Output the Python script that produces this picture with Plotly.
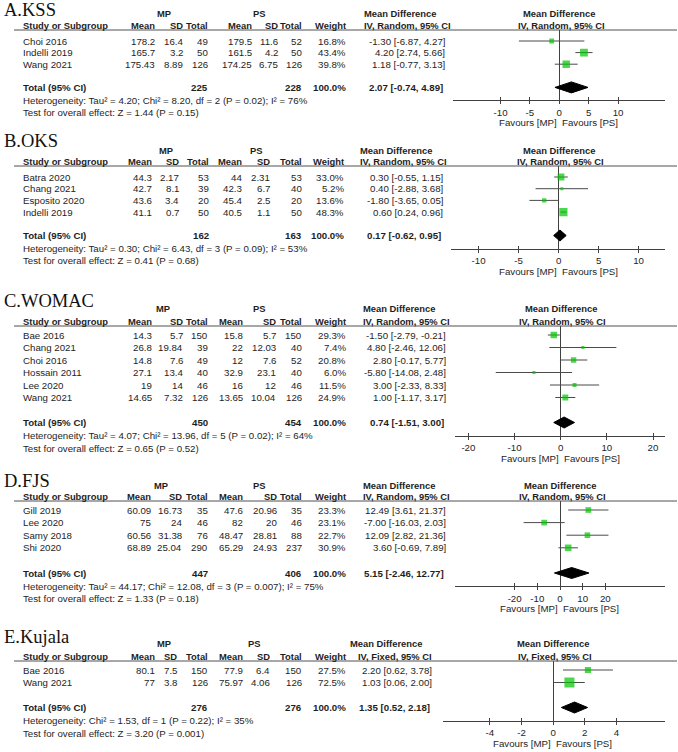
import math
import plotly.graph_objects as go

W, H = 678, 752

# ---------------- data ----------------
kss_study = ["Choi 2016", "Indelli 2019", "Wang 2021"]
kss_mp_mean = [178.2, 165.7, 175.43]
kss_mp_sd = [16.4, 3.2, 8.89]
kss_mp_n = [49, 50, 126]
kss_ps_mean = [179.5, 161.5, 174.25]
kss_ps_sd = [11.6, 4.2, 6.75]
kss_ps_n = [52, 50, 126]
kss_weight = [16.8, 43.4, 39.8]
kss_md = [-1.30, 4.20, 1.18]
kss_lo = [-6.87, 2.74, -0.77]
kss_hi = [4.27, 5.66, 3.13]
kss_total_n = [225, 228]
kss_total_md = [2.07, -0.74, 4.89]
kss_het = "Heterogeneity: Tau² = 4.20; Chi² = 8.20, df = 2 (P = 0.02); I² = 76%"
kss_test = "Test for overall effect: Z = 1.44 (P = 0.15)"
kss_ticks = [-10, -5, 0, 5, 10]

oks_study = ["Batra 2020", "Chang 2021", "Esposito 2020", "Indelli 2019"]
oks_mp_mean = [44.3, 42.7, 43.6, 41.1]
oks_mp_sd = [2.17, 8.1, 3.4, 0.7]
oks_mp_n = [53, 39, 20, 50]
oks_ps_mean = [44, 42.3, 45.4, 40.5]
oks_ps_sd = [2.31, 6.7, 2.5, 1.1]
oks_ps_n = [53, 40, 20, 50]
oks_weight = [33.0, 5.2, 13.6, 48.3]
oks_md = [0.30, 0.40, -1.80, 0.60]
oks_lo = [-0.55, -2.88, -3.65, 0.24]
oks_hi = [1.15, 3.68, 0.05, 0.96]
oks_total_n = [162, 163]
oks_total_md = [0.17, -0.62, 0.95]
oks_het = "Heterogeneity: Tau² = 0.30; Chi² = 6.43, df = 3 (P = 0.09); I² = 53%"
oks_test = "Test for overall effect: Z = 0.41 (P = 0.68)"
oks_ticks = [-10, -5, 0, 5, 10]

womac_study = ["Bae 2016", "Chang 2021", "Choi 2016", "Hossain 2011", "Lee 2020", "Wang 2021"]
womac_mp_mean = [14.3, 26.8, 14.8, 27.1, 19, 14.65]
womac_mp_sd = [5.7, 19.84, 7.6, 13.4, 14, 7.32]
womac_mp_n = [150, 39, 49, 40, 46, 126]
womac_ps_mean = [15.8, 22, 12, 32.9, 16, 13.65]
womac_ps_sd = [5.7, 12.03, 7.6, 23.1, 12, 10.04]
womac_ps_n = [150, 40, 52, 40, 46, 126]
womac_weight = [29.3, 7.4, 20.8, 6.0, 11.5, 24.9]
womac_md = [-1.50, 4.80, 2.80, -5.80, 3.00, 1.00]
womac_lo = [-2.79, -2.46, -0.17, -14.08, -2.33, -1.17]
womac_hi = [-0.21, 12.06, 5.77, 2.48, 8.33, 3.17]
womac_total_n = [450, 454]
womac_total_md = [0.74, -1.51, 3.00]
womac_het = "Heterogeneity: Tau² = 4.07; Chi² = 13.96, df = 5 (P = 0.02); I² = 64%"
womac_test = "Test for overall effect: Z = 0.65 (P = 0.52)"
womac_ticks = [-20, -10, 0, 10, 20]

fjs_study = ["Gill 2019", "Lee 2020", "Samy 2018", "Shi 2020"]
fjs_mp_mean = [60.09, 75, 60.56, 68.89]
fjs_mp_sd = [16.73, 24, 31.38, 25.04]
fjs_mp_n = [35, 46, 76, 290]
fjs_ps_mean = [47.6, 82, 48.47, 65.29]
fjs_ps_sd = [20.96, 20, 28.81, 24.93]
fjs_ps_n = [35, 46, 88, 237]
fjs_weight = [23.3, 23.1, 22.7, 30.9]
fjs_md = [12.49, -7.00, 12.09, 3.60]
fjs_lo = [3.61, -16.03, 2.82, -0.69]
fjs_hi = [21.37, 2.03, 21.36, 7.89]
fjs_total_n = [447, 406]
fjs_total_md = [5.15, -2.46, 12.77]
fjs_het = "Heterogeneity: Tau² = 44.17; Chi² = 12.08, df = 3 (P = 0.007); I² = 75%"
fjs_test = "Test for overall effect: Z = 1.33 (P = 0.18)"
fjs_ticks = [-20, -10, 0, 10, 20]

kuj_study = ["Bae 2016", "Wang 2021"]
kuj_mp_mean = [80.1, 77]
kuj_mp_sd = [7.5, 3.8]
kuj_mp_n = [150, 126]
kuj_ps_mean = [77.9, 75.97]
kuj_ps_sd = [6.4, 4.06]
kuj_ps_n = [150, 126]
kuj_weight = [27.5, 72.5]
kuj_md = [2.20, 1.03]
kuj_lo = [0.62, 0.06]
kuj_hi = [3.78, 2.00]
kuj_total_n = [276, 276]
kuj_total_md = [1.35, 0.52, 2.18]
kuj_het = "Heterogeneity: Chi² = 1.53, df = 1 (P = 0.22); I² = 35%"
kuj_test = "Test for overall effect: Z = 3.20 (P = 0.001)"
kuj_ticks = [-4, -2, 0, 2, 4]

panel_titles = ["A.KSS", "B.OKS", "C.WOMAC", "D.FJS", "E.Kujala"]
method_labels = ["IV, Random, 95% CI", "IV, Random, 95% CI", "IV, Random, 95% CI",
                 "IV, Random, 95% CI", "IV, Fixed, 95% CI"]
group_labels = ["MP", "PS"]
favour_labels = ["Favours [MP]", "Favours [PS]"]

panels_data = [
    (kss_study, kss_mp_mean, kss_mp_sd, kss_mp_n, kss_ps_mean, kss_ps_sd, kss_ps_n,
     kss_weight, kss_md, kss_lo, kss_hi, kss_total_n, kss_total_md, kss_het, kss_test, kss_ticks),
    (oks_study, oks_mp_mean, oks_mp_sd, oks_mp_n, oks_ps_mean, oks_ps_sd, oks_ps_n,
     oks_weight, oks_md, oks_lo, oks_hi, oks_total_n, oks_total_md, oks_het, oks_test, oks_ticks),
    (womac_study, womac_mp_mean, womac_mp_sd, womac_mp_n, womac_ps_mean, womac_ps_sd, womac_ps_n,
     womac_weight, womac_md, womac_lo, womac_hi, womac_total_n, womac_total_md, womac_het, womac_test, womac_ticks),
    (fjs_study, fjs_mp_mean, fjs_mp_sd, fjs_mp_n, fjs_ps_mean, fjs_ps_sd, fjs_ps_n,
     fjs_weight, fjs_md, fjs_lo, fjs_hi, fjs_total_n, fjs_total_md, fjs_het, fjs_test, fjs_ticks),
    (kuj_study, kuj_mp_mean, kuj_mp_sd, kuj_mp_n, kuj_ps_mean, kuj_ps_sd, kuj_ps_n,
     kuj_weight, kuj_md, kuj_lo, kuj_hi, kuj_total_n, kuj_total_md, kuj_het, kuj_test, kuj_ticks),
]

# ---------------- layout (pixel positions / styling) ----------------
panel_layout = [
    dict(title_y=10, head_y=14, S=25.5, L=30, r0=41, dy=11.6, x0=453, x1=665, xr=(-18.1, 18.0),
         cols=[155, 183, 208, 252, 278, 302, 346], mp_c=164, ps_c=259, md_r=445, iv_r=451),
    dict(title_y=141, head_y=150, S=161.5, L=166, r0=177, dy=11.7, x0=451, x1=665, xr=(-13.45, 13.3),
         cols=[152, 178.5, 209, 242, 269.5, 302, 344], mp_c=166, ps_c=256.5, md_r=443, iv_r=447),
    dict(title_y=301, head_y=309, S=321.5, L=326, r0=335, dy=12.5, x0=455, x1=665, xr=(-22.9, 22.6),
         cols=[152, 183, 208, 243, 276, 302, 346], mp_c=162.5, ps_c=259, md_r=446, iv_r=450),
    dict(title_y=481, head_y=485, S=496.5, L=501, r0=510, dy=12.6, x0=455, x1=665, xr=(-46.3, 46.3),
         cols=[151, 182, 208, 243, 277, 302, 346], mp_c=161, ps_c=259, md_r=446, iv_r=450),
    dict(title_y=637, head_y=643, S=656.5, L=661, r0=670, dy=12.5, x0=443, x1=665, xr=(-6.96, 7.07),
         cols=[155, 177, 208, 243, 270, 302, 346], mp_c=164, ps_c=254, md_r=432, iv_r=432),
]

SANS = "Arial, Liberation Sans, sans-serif"
SERIF = "Times New Roman, Liberation Serif, serif"
TXT = "#1e1e1e"
FS = 9.7
FSH = 9.4
GREEN = "#00c400"
LINE = "#404040"


def X(px):
    return px / W


def Y(py):
    return 1 - py / H


ann = []
shapes = []


def text(x, y, s, anchor="left", bold=False, size=FS, family=SANS, color=TXT):
    ann.append(dict(x=X(x), y=Y(y), xref="paper", yref="paper",
                    text=f"<b>{s}</b>" if bold else s, showarrow=False,
                    xanchor=anchor, yanchor="middle", borderpad=0, borderwidth=0,
                    font=dict(size=size, family=family, color=color)))


def g(v):
    return f"{v:g}"


fig = go.Figure()
layout_axes = {}

for i, (pdata, pl) in enumerate(zip(panels_data, panel_layout)):
    (study, mpm, mps, mpn, psm, pss, psn, wt, md, lo, hi, tn, tmd, het, test, ticks) = pdata
    k = i + 1
    n = len(study)
    r0, dy = pl["r0"], pl["dy"]
    c = pl["cols"]
    total_y = r0 + (n + 1) * dy
    axis_y = total_y + 13
    x0, x1 = pl["x0"], pl["x1"]
    xmin, xmax = pl["xr"]
    zero_px = x0 + (0 - xmin) / (xmax - xmin) * (x1 - x0)

    # title
    text(4, pl["title_y"], panel_titles[i], size=18.5, family=SERIF, color="#111111")
    # group headers
    text(pl["mp_c"], pl["head_y"], group_labels[0], anchor="center", bold=True, size=FSH)
    text(pl["ps_c"], pl["head_y"], group_labels[1], anchor="center", bold=True, size=FSH)
    # column headers
    S = pl["S"]
    text(22.5, S, "Study or Subgroup", bold=True, size=FSH)
    for cx, lab in zip(c, ["Mean", "SD", "Total", "Mean", "SD", "Total", "Weight"]):
        text(cx, S, lab, anchor="right", bold=True, size=FSH)
    iv_w = (9.536 if "Random" in method_labels[i] else 8.48) * FSH
    iv_center = pl["iv_r"] - iv_w / 2
    text(iv_center - 6, pl["head_y"], "Mean Difference", anchor="center", bold=True, size=FSH)
    text(pl["iv_r"], S, method_labels[i], anchor="right", bold=True, size=FSH)
    text(zero_px, pl["head_y"], "Mean Difference", anchor="center", bold=True, size=FSH)
    text(zero_px + 2, S, method_labels[i], anchor="center", bold=True, size=FSH)
    # underline
    shapes.append(dict(type="line", xref="paper", yref="paper", x0=X(14), x1=X(677),
                       y0=Y(pl["L"]), y1=Y(pl["L"]), line=dict(color="#505050", width=1)))
    # rows
    for j in range(n):
        yy = r0 + j * dy
        text(22.5, yy, study[j])
        vals = [g(mpm[j]), g(mps[j]), g(mpn[j]), g(psm[j]), g(pss[j]), g(psn[j]), f"{wt[j]:.1f}%"]
        for cx, v in zip(c, vals):
            text(cx, yy, v, anchor="right")
        text(pl["md_r"], yy, f"{md[j]:.2f} [{lo[j]:.2f}, {hi[j]:.2f}]", anchor="right")
    # total
    text(22.5, total_y, "Total (95% CI)", bold=True)
    text(c[2], total_y, g(tn[0]), anchor="right", bold=True)
    text(c[5], total_y, g(tn[1]), anchor="right", bold=True)
    text(c[6], total_y, "100.0%", anchor="right", bold=True)
    text(pl["md_r"] - 2, total_y, f"{tmd[0]:.2f} [{tmd[1]:.2f}, {tmd[2]:.2f}]", anchor="right", bold=True)
    text(22.5, total_y + 13, het)
    text(22.5, total_y + 25.5, test)
    # favours
    text(zero_px - 2, axis_y + 22.5, favour_labels[0], anchor="right")
    text(zero_px + 3, axis_y + 22.5, favour_labels[1], anchor="left")

    # forest plot axes
    xa = f"x{k}"
    ya = f"y{k}"
    yr = [(axis_y - r0) / dy, (pl["L"] - r0) / dy]
    layout_axes[f"xaxis{k}"] = dict(
        domain=[X(x0), X(x1)], range=[xmin, xmax], anchor=ya,
        showline=True, linecolor=LINE, linewidth=1,
        ticks="outside", ticklen=3, tickwidth=1, tickcolor=LINE,
        tickvals=ticks, ticktext=[str(t) for t in ticks],
        tickfont=dict(size=FS, family=SANS, color=TXT),
        showgrid=False, zeroline=True, zerolinecolor=LINE, zerolinewidth=1,
        fixedrange=True)
    layout_axes[f"xaxis{k + 5}"] = dict(
        overlaying=xa, anchor=ya, range=[xmin, xmax], side="bottom",
        showline=False, ticks="inside", ticklen=3, tickwidth=1, tickcolor=LINE,
        tickvals=ticks, showticklabels=False, showgrid=False, zeroline=False,
        fixedrange=True)
    layout_axes[f"yaxis{k}"] = dict(
        domain=[Y(axis_y), Y(pl["L"])], range=yr, visible=False, fixedrange=True)

    # CI lines
    cx, cy = [], []
    for j in range(n):
        cx += [lo[j], hi[j], None]
        cy += [j, j, None]
    fig.add_trace(go.Scatter(x=cx, y=cy, mode="lines", line=dict(color="#4a4a4a", width=1),
                             xaxis=xa, yaxis=ya, hoverinfo="skip", showlegend=False))
    # squares
    fig.add_trace(go.Scatter(x=md, y=list(range(n)), mode="markers",
                             marker=dict(symbol="square", color=GREEN,
                                         size=[max(3, 1.18 * math.sqrt(w)) for w in wt],
                                         line=dict(width=0)),
                             xaxis=xa, yaxis=ya, showlegend=False))
    # diamond
    dh = 5.5 / dy
    ty = n + 1
    fig.add_trace(go.Scatter(x=[tmd[1], tmd[0], tmd[2], tmd[0], tmd[1]],
                             y=[ty, ty - dh, ty, ty + dh, ty],
                             mode="lines", fill="toself", fillcolor="black",
                             line=dict(color="black", width=1),
                             xaxis=xa, yaxis=ya, hoverinfo="skip", showlegend=False))
    # invisible trace to activate overlay axis
    fig.add_trace(go.Scatter(x=[None], y=[None], xaxis=f"x{k + 5}", yaxis=ya,
                             showlegend=False, hoverinfo="skip"))

fig.update_layout(
    width=W, height=H, margin=dict(l=0, r=0, t=0, b=0),
    paper_bgcolor="white", plot_bgcolor="rgba(0,0,0,0)",
    annotations=ann, shapes=shapes, showlegend=False,
    **layout_axes,
)

fig.write_html("out.html",
               config={"displayModeBar": False, "staticPlot": True},
               post_script="document.body.style.margin='0px';document.body.style.overflow='hidden';")
